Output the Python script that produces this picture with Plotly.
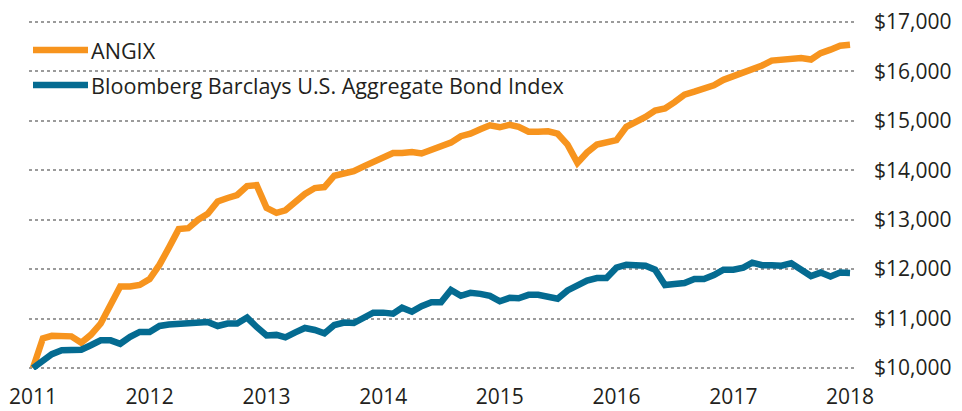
import pandas as pd
import plotly.graph_objects as go

# ---- data (monthly, Jan 2011 .. Jan 2018) ----
dates = pd.date_range("2011-01-01", periods=85, freq="MS")

angix = [
    10000, 10600, 10650, 10650, 10640, 10510, 10670, 10900, 11280, 11650,
    11650, 11680, 11800, 12090, 12430, 12810, 12830, 13000, 13120, 13370,
    13440, 13500, 13680, 13700, 13240, 13140, 13190, 13370, 13520, 13640,
    13660, 13890, 13950, 13980, 14080, 14160, 14250, 14350, 14350, 14370,
    14340, 14420, 14470, 14560, 14690, 14740, 14830, 14910, 14870, 14920,
    14880, 14780, 14780, 14790, 14740, 14520, 14150, 14360, 14520, 14560,
    14610, 14880, 14960, 15080, 15210, 15250, 15380, 15530, 15590, 15650,
    15720, 15830, 15900, 15980, 16060, 16120, 16220, 16240, 16240, 16270,
    16240, 16370, 16440, 16520, 16540,
]

agg = [
    10000, 10160, 10280, 10360, 10370, 10370, 10460, 10560, 10560, 10490,
    10630, 10730, 10730, 10850, 10880, 10890, 10910, 10930, 10930, 10850,
    10900, 10900, 11020, 10830, 10660, 10670, 10620, 10720, 10810, 10770,
    10700, 10870, 10920, 10910, 11010, 11120, 11120, 11100, 11220, 11140,
    11250, 11330, 11330, 11580, 11460, 11520, 11500, 11460, 11350, 11420,
    11410, 11480, 11480, 11450, 11400, 11570, 11670, 11770, 11820, 11820,
    12030, 12090, 12080, 12070, 11990, 11680, 11700, 11720, 11800, 11800,
    11880, 11990, 11990, 12030, 12130, 12080, 12080, 12070, 12120, 11990,
    11860, 11930, 11850, 11930, 11920,
]

series_names = ["ANGIX", "Bloomberg Barclays U.S. Aggregate Bond Index"]
series_colors = ["#F7941E", "#046B91"]

y_tickvals = [10000, 11000, 12000, 13000, 14000, 15000, 16000, 17000]
y_ticktext = ["$10,000", "$11,000", "$12,000", "$13,000", "$14,000", "$15,000", "$16,000", "$17,000"]
x_tickvals = [f"{y}-01-01" for y in range(2011, 2019)]
x_ticktext = [str(y) for y in range(2011, 2019)]

FONT = "Open Sans"
TEXT = "#231F20"

# page is rendered with an 8px body margin, so the figure is offset by 8px
OFF = 8
W, H = 962 - OFF, 411 - OFF
L, R, T, B = 29 - OFF, 108, 20 - OFF, 41

fig = go.Figure()
for vals, name, col in zip([angix, agg], series_names, series_colors):
    fig.add_trace(go.Scatter(
        x=dates, y=vals, mode="lines", name=name,
        line=dict(color=col, width=6.5), showlegend=False,
        hoverinfo="skip",
    ))

# custom legend (long line samples), positions given in page pixels
def px2paper(px, py):
    fx, fy = px - OFF, py - OFF
    return (fx - L) / (W - L - R), (H - B - fy) / (H - T - B)

leg_y = [50, 85]
for name, col, py in zip(series_names, series_colors, leg_y):
    x0, y0 = px2paper(33, py)
    x1, _ = px2paper(88, py)
    fig.add_shape(type="line", xref="paper", yref="paper", x0=x0, x1=x1, y0=y0, y1=y0,
                  line=dict(color=col, width=6.5))
    tx, _ = px2paper(89, py)
    fig.add_annotation(xref="paper", yref="paper", x=tx, y=y0, text=name, showarrow=False,
                       xanchor="left", yanchor="middle",
                       font=dict(family=FONT, size=21.6, color=TEXT))

fig.update_layout(
    width=W, height=H,
    margin=dict(l=L, r=R, t=T, b=B),
    paper_bgcolor="white", plot_bgcolor="white",
    font=dict(family=FONT, size=21, color=TEXT),
    xaxis=dict(
        type="date",
        range=["2010-12-19 12:00", "2018-01-13 12:00"],
        tickvals=x_tickvals, ticktext=x_ticktext,
        showgrid=False, zeroline=False, showline=False, ticks="",
        ticklabelstandoff=12, automargin=False, ticklabeloverflow="allow",
        tickfont=dict(family=FONT, size=21, color=TEXT),
    ),
    yaxis=dict(
        range=[9959.5, 17040.5],
        side="right",
        tickvals=y_tickvals, ticktext=y_ticktext,
        showgrid=True, gridcolor="#9B9B9B", gridwidth=1.5, griddash="dot",
        zeroline=False, showline=False, ticks="",
        ticklabelstandoff=19, automargin=False, ticklabeloverflow="allow",
        tickfont=dict(family=FONT, size=21, color=TEXT),
    ),
)

fig.write_html("out.html")
